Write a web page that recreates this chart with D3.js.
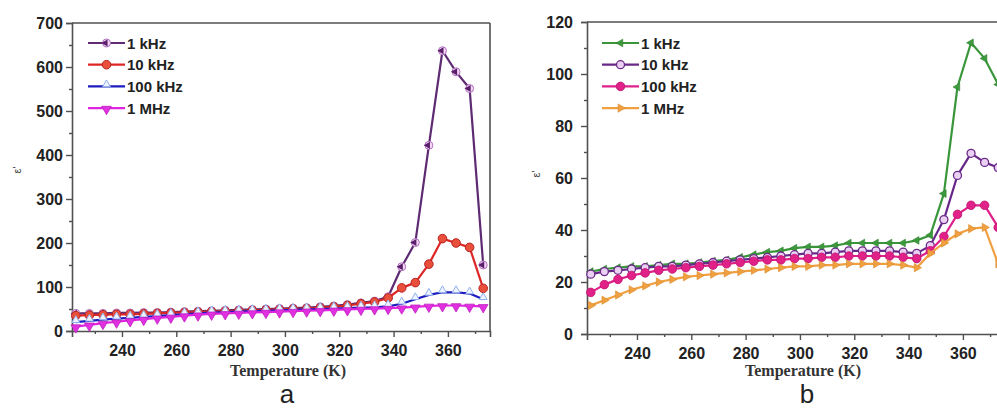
<!DOCTYPE html>
<html>
<head>
<meta charset="utf-8">
<script src="https://cdn.jsdelivr.net/npm/d3@7/dist/d3.min.js"></script>
<style>
  html, body { margin: 0; padding: 0; background: #fff; overflow: hidden; }
  svg { display: block; }
</style>
</head>
<body>
<svg id="chart" width="997" height="410"></svg>
<script>
// ---------------- DATA ----------------
const temps = [223, 228, 233, 238, 243, 248, 253, 258, 263, 268, 273, 278, 283, 288, 293, 298,
               303, 308, 313, 318, 323, 328, 333, 338, 343, 348, 353, 358, 363, 368, 373];

const xTicks = [240, 260, 280, 300, 320, 340, 360];
const xMinorTicks = [230, 250, 270, 290, 310, 330, 350, 370];

// Panel a
const aLabels = ["1 kHz", "10 kHz", "100 kHz", "1 MHz"];
const a_1kHz = [40, 40, 40, 41, 41, 42, 42, 43, 44, 45, 46, 47, 48, 49, 50, 51,
                52, 53, 55, 57, 60, 64, 68, 78, 146, 201, 422, 637, 589, 551, 150];
const a_10kHz = [35, 36, 37, 38, 38, 39, 40, 41, 42, 43, 44, 45, 46, 47, 48, 49,
                 50, 51, 53, 55, 58, 62, 66, 75, 98, 110, 152, 210, 200, 190, 97];
const a_100kHz = [20, 23, 26, 28, 30, 32, 34, 36, 38, 40, 42, 43, 44, 45, 46, 47,
                  48, 49, 50, 51, 52, 53, 54, 56, 62, 72, 82, 88, 88, 85, 72];
const a_1MHz = [10, 14, 18, 21, 24, 27, 30, 32, 35, 37, 39, 40, 41, 42, 43, 44,
                45, 46, 47, 48, 49, 50, 51, 52, 53, 55, 57, 58, 58, 57, 56];
const aYTicks = [0, 100, 200, 300, 400, 500, 600, 700];
const aYMinor = [50, 150, 250, 350, 450, 550, 650];

// Panel b
const bLabels = ["1 kHz", "10 kHz", "100 kHz", "1 MHz"];
const b_1kHz = [24, 25, 25.5, 26, 26, 26.5, 27, 27, 27.5, 28, 28.5, 29.5, 30.5, 31.5, 32, 33,
                33.5, 33.5, 34, 35, 35, 35, 35, 35, 36, 38, 54, 95, 112, 106, 96];
const b_10kHz = [23, 24, 24.5, 25, 25.5, 26, 26, 26.5, 27, 27.5, 28, 28.5, 29, 29.5, 30, 30.5,
                 31, 31, 31.5, 32, 32, 32, 32, 31.5, 31, 34, 44, 61, 69.5, 66, 64];
const b_100kHz = [16, 19, 21, 22.5, 23.5, 24.5, 25, 25.5, 26, 26.5, 27, 27.5, 28, 28.5, 28.5, 29,
                  29, 29.5, 29.5, 30, 30, 30, 30, 29.5, 29, 32, 37.5, 46, 49.5, 49.5, 41];
const b_1MHz = [11, 13, 15, 17, 18.5, 20, 21, 22, 22.5, 23, 23.5, 24, 24.5, 25, 25.5, 26,
                26, 26.5, 26.5, 27, 27, 27, 27, 26.5, 25.5, 31, 35, 38.5, 40.5, 41, 27];
const bYTicks = [0, 20, 40, 60, 80, 100, 120];
const bYMinor = [10, 30, 50, 70, 90, 110];

// ---------------- DRAW ----------------
const svg = d3.select("#chart");
const axisColor = "#505050";
const tickFont = "'Liberation Sans', Arial, sans-serif";

function marker(g, type, x, y, scale) {
  const s = scale || 1;
  if (type === "a1k") {
    g.append("circle").attr("cx", x).attr("cy", y).attr("r", 4 * s)
      .attr("fill", "#f5d6f5").attr("stroke", "#b070c0").attr("stroke-width", 1);
    g.append("path").attr("d", d3.symbol(d3.symbolTriangle, 22 * s * s)())
      .attr("transform", `translate(${x - 1},${y}) rotate(-90)`).attr("fill", "#5a1f6a");
  } else if (type === "a10k") {
    g.append("circle").attr("cx", x).attr("cy", y).attr("r", 4.3 * s)
      .attr("fill", "#e8503c").attr("stroke", "#b82424").attr("stroke-width", 1);
  } else if (type === "a100k") {
    g.append("path").attr("d", d3.symbol(d3.symbolTriangle, 26 * s * s)())
      .attr("transform", `translate(${x},${y - 2})`)
      .attr("fill", "#eef3ff").attr("stroke", "#8fb0ee").attr("stroke-width", 1);
  } else if (type === "a1M") {
    g.append("path").attr("d", d3.symbol(d3.symbolTriangle, 40 * s * s)())
      .attr("transform", `translate(${x},${y + 1}) rotate(180)`)
      .attr("fill", "#e030e0").attr("stroke", "#c020c0").attr("stroke-width", 0.8);
  } else if (type === "b1k") {
    g.append("path").attr("d", d3.symbol(d3.symbolTriangle, 26 * s * s)())
      .attr("transform", `translate(${x},${y}) rotate(-90)`)
      .attr("fill", "#3c9a3c").attr("stroke", "#2f7f2f").attr("stroke-width", 0.6);
  } else if (type === "b10k") {
    g.append("circle").attr("cx", x).attr("cy", y).attr("r", 4 * s)
      .attr("fill", "#ead0f2").attr("stroke", "#6a2a88").attr("stroke-width", 1.3);
  } else if (type === "b100k") {
    g.append("circle").attr("cx", x).attr("cy", y).attr("r", 4.3 * s)
      .attr("fill", "#e02288").attr("stroke", "#c0106e").attr("stroke-width", 0.8);
  } else if (type === "b1M") {
    g.append("path").attr("d", d3.symbol(d3.symbolTriangle, 30 * s * s)())
      .attr("transform", `translate(${x},${y}) rotate(90)`)
      .attr("fill", "#f0a040").attr("stroke", "#d98a2a").attr("stroke-width", 0.6);
  }
}

function panel(cfg) {
  const g = svg.append("g");
  const x = d3.scaleLinear().domain([221.6, 375.5]).range([cfg.left, cfg.left + 418]);
  const y = d3.scaleLinear().domain(cfg.yDomain).range([cfg.bottom, cfg.top]);

  // frame: top + right
  g.append("line").attr("x1", cfg.left).attr("x2", cfg.left + 418)
    .attr("y1", cfg.top).attr("y2", cfg.top)
    .attr("stroke", axisColor).attr("stroke-width", 1.6);
  g.append("line").attr("x1", cfg.left + 418).attr("x2", cfg.left + 418)
    .attr("y1", cfg.top).attr("y2", cfg.bottom)
    .attr("stroke", axisColor).attr("stroke-width", 1.6);

  // x axis
  g.append("g").attr("transform", `translate(0,${cfg.bottom})`)
    .call(d3.axisBottom(x).tickValues(cfg.xTicks).tickSize(6).tickPadding(8).tickFormat(d3.format("d")));
  g.append("g").attr("transform", `translate(0,${cfg.bottom})`)
    .call(d3.axisBottom(x).tickValues(cfg.xMinor).tickSize(3).tickFormat(""))
    .call(s => s.select(".domain").remove());
  // y axis
  g.append("g").attr("transform", `translate(${cfg.left},0)`)
    .call(d3.axisLeft(y).tickValues(cfg.yTicks).tickSize(6).tickPadding(cfg.yPad).tickFormat(d3.format("d")));
  g.append("g").attr("transform", `translate(${cfg.left},0)`)
    .call(d3.axisLeft(y).tickValues(cfg.yMinor).tickSize(3).tickFormat(""))
    .call(s => s.select(".domain").remove());

  g.selectAll(".domain").attr("stroke", axisColor).attr("stroke-width", 1.6);
  g.selectAll(".tick line").attr("stroke", axisColor).attr("stroke-width", 1.4);
  g.selectAll(".tick text").attr("fill", "#222")
    .style("font-family", tickFont).style("font-weight", "bold").style("font-size", "16px");

  // series
  const plot = g.append("g");
  cfg.series.forEach(s => {
    const line = d3.line().x((d, i) => x(temps[i])).y(d => y(d));
    plot.append("path").datum(s.values).attr("d", line)
      .attr("fill", "none").attr("stroke", s.color).attr("stroke-width", 2.2)
      .attr("stroke-linejoin", "round");
    const mg = plot.append("g");
    s.values.forEach((v, i) => marker(mg, s.marker, x(temps[i]), y(v), 1));
  });

  // legend
  const lg = g.append("g");
  cfg.series.forEach((s, i) => {
    const ly = cfg.legendY + i * 21.7;
    lg.append("line").attr("x1", cfg.legendX).attr("x2", cfg.legendX + 37)
      .attr("y1", ly).attr("y2", ly).attr("stroke", s.color).attr("stroke-width", 2.2);
    marker(lg, s.marker, cfg.legendX + 18.5, ly, 1);
    lg.append("text").attr("x", cfg.legendX + 39).attr("y", ly + 5.5)
      .text(s.label).attr("fill", "#222")
      .style("font-family", tickFont).style("font-weight", "bold").style("font-size", "15px");
  });

  // x title
  g.append("text").attr("x", cfg.left + 216).attr("y", 376).attr("text-anchor", "middle")
    .text("Temperature (K)").attr("fill", "#333")
    .style("font-family", "'Liberation Serif', 'Times New Roman', serif")
    .style("font-weight", "bold").style("font-size", "16px");
  // y title
  g.append("text").attr("transform", `translate(${cfg.yLabX},${cfg.yLabY}) rotate(-90)`)
    .attr("text-anchor", "middle").text("ε'").attr("fill", "#444")
    .style("font-family", "'Liberation Sans', Arial, sans-serif").style("font-size", "11px");
  // panel letter
  g.append("text").attr("x", cfg.letterX).attr("y", cfg.letterY).attr("text-anchor", "middle")
    .text(cfg.letter).attr("fill", "#222")
    .style("font-family", "'Liberation Sans', Arial, sans-serif").style("font-size", "26px");
}

panel({
  left: 72, top: 23, bottom: 331, yDomain: [0, 700], yTicks: aYTicks, yMinor: aYMinor, yPad: 3,
  xTicks: xTicks, xMinor: xMinorTicks,
  series: [
    { label: aLabels[0], values: a_1kHz, color: "#5e2a72", marker: "a1k" },
    { label: aLabels[1], values: a_10kHz, color: "#dd2626", marker: "a10k" },
    { label: aLabels[2], values: a_100kHz, color: "#1c1cc0", marker: "a100k" },
    { label: aLabels[3], values: a_1MHz, color: "#e024e0", marker: "a1M" }
  ],
  legendX: 88, legendY: 43, yLabX: 21, yLabY: 170, letter: "a", letterX: 287, letterY: 403
});

panel({
  left: 587, top: 22, bottom: 334, yDomain: [0, 120], yTicks: bYTicks, yMinor: bYMinor, yPad: 8,
  xTicks: xTicks, xMinor: xMinorTicks,
  series: [
    { label: bLabels[0], values: b_1kHz, color: "#3a963a", marker: "b1k" },
    { label: bLabels[1], values: b_10kHz, color: "#68288a", marker: "b10k" },
    { label: bLabels[2], values: b_100kHz, color: "#e0208a", marker: "b100k" },
    { label: bLabels[3], values: b_1MHz, color: "#f0a040", marker: "b1M" }
  ],
  legendX: 602, legendY: 43, yLabX: 540, yLabY: 174, letter: "b", letterX: 807, letterY: 403
});
</script>
</body>
</html>
